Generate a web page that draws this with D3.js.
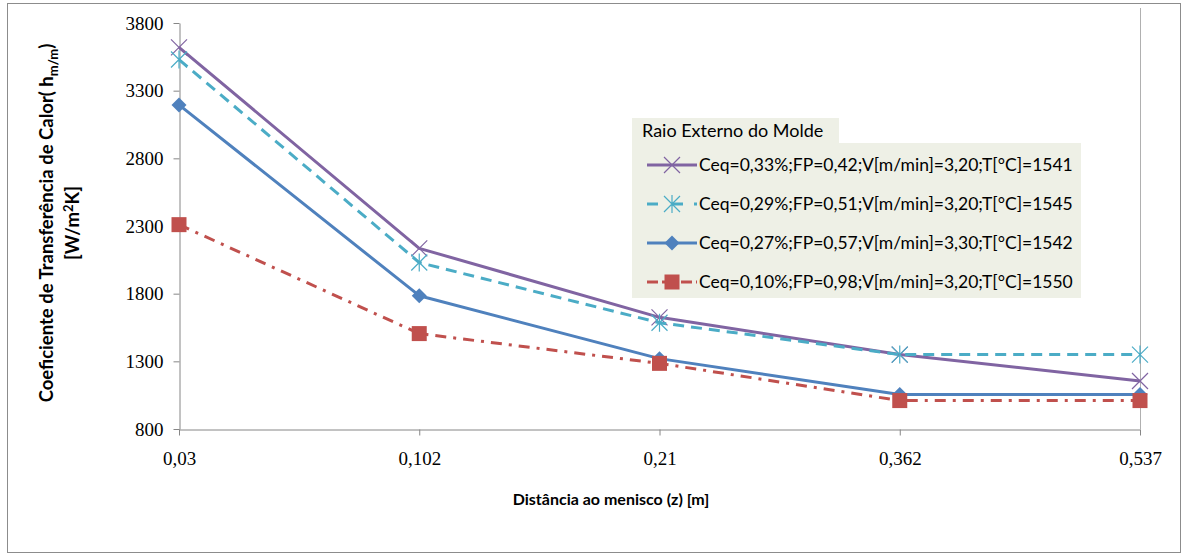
<!DOCTYPE html>
<html>
<head>
<meta charset="utf-8">
<script src="https://cdn.jsdelivr.net/npm/d3@7"></script>
<style>
  html, body { margin: 0; padding: 0; background: #fff; }
  svg { display: block; }
</style>
</head>
<body>
<svg id="chart" width="1182" height="554"></svg>
<script>
// Distance from meniscus (categorical positions along the mould)
const categories = ["0,03", "0,102", "0,21", "0,362", "0,537"];

// Heat transfer coefficient [W/m²K] for each casting condition
const ceq033 = [3620, 2135, 1625, 1350, 1155];
const ceq029 = [3530, 2030, 1585, 1350, 1350];
const ceq027 = [3195, 1785, 1320, 1055, 1055];
const ceq010 = [2310, 1505, 1285, 1010, 1010];

const seriesNames = [
  "Ceq=0,33%;FP=0,42;V[m/min]=3,20;T[°C]=1541",
  "Ceq=0,29%;FP=0,51;V[m/min]=3,20;T[°C]=1545",
  "Ceq=0,27%;FP=0,57;V[m/min]=3,30;T[°C]=1542",
  "Ceq=0,10%;FP=0,98;V[m/min]=3,20;T[°C]=1550"
];

const yTicks = [800, 1300, 1800, 2300, 2800, 3300, 3800];

const series = [
  { name: seriesNames[0], values: ceq033, color: "#8064A2", dash: null, marker: "x" },
  { name: seriesNames[1], values: ceq029, color: "#4BACC6", dash: "11,7", marker: "star" },
  { name: seriesNames[2], values: ceq027, color: "#4F81BD", dash: null, marker: "diamond" },
  { name: seriesNames[3], values: ceq010, color: "#C0504D", dash: "11,7,3,7", marker: "square" }
];

const svg = d3.select("#chart");
const serif = "'Liberation Serif', 'DejaVu Serif', serif";
const sans = "Lato, 'Open Sans', 'Noto Sans', sans-serif";

// outer chart frame
svg.append("rect")
  .attr("x", 7.5).attr("y", 3.5).attr("width", 1173).attr("height", 549)
  .attr("fill", "#fff").attr("stroke", "#8c8c8c").attr("stroke-width", 1);

const plot = { left: 179, right: 1140, top: 23, bottom: 429 };

const x = d3.scalePoint().domain(categories).range([plot.left, plot.right]).padding(0);
const y = d3.scaleLinear().domain([800, 3800]).range([plot.bottom, plot.top]);

// right edge of plot area
svg.append("line")
  .attr("x1", plot.right + 0.5).attr("x2", plot.right + 0.5)
  .attr("y1", plot.top - 15).attr("y2", plot.bottom)
  .attr("stroke", "#b0b0b0").attr("stroke-width", 1);

// y axis
const yAxis = svg.append("g")
  .attr("transform", `translate(${plot.left + 0.5},0)`)
  .call(d3.axisLeft(y).tickValues(yTicks).tickSize(6).tickSizeOuter(0).tickPadding(10)
        .tickFormat(d3.format("d")));
yAxis.select(".domain").attr("stroke", "#868686");
yAxis.selectAll(".tick line").attr("stroke", "#868686");
yAxis.selectAll(".tick text")
  .attr("font-family", serif).attr("font-size", 19).attr("fill", "#000");

// x axis
const xAxis = svg.append("g")
  .attr("transform", `translate(0,${plot.bottom + 0.5})`)
  .call(d3.axisBottom(x).tickSize(6).tickSizeOuter(0).tickPadding(16));
xAxis.select(".domain").attr("stroke", "#868686");
xAxis.selectAll(".tick line").attr("stroke", "#868686");
xAxis.selectAll(".tick text")
  .attr("font-family", serif).attr("font-size", 19).attr("fill", "#000");

// axis titles
svg.append("text")
  .attr("x", 611).attr("y", 505)
  .attr("text-anchor", "middle")
  .attr("font-family", sans).attr("font-weight", "bold").attr("font-size", 16)
  .text("Distância ao menisco (z) [m]");

const yTitle = svg.append("g").attr("transform", "translate(53,223) rotate(-90)");
const t1 = yTitle.append("text")
  .attr("x", 0).attr("y", 0).attr("text-anchor", "middle")
  .attr("font-family", sans).attr("font-weight", "bold").attr("font-size", 18.5);
t1.append("tspan").text("Coeficiente de Transferência de Calor( h");
t1.append("tspan").attr("dy", 5).attr("font-size", 13).text("m/m");
t1.append("tspan").attr("dy", -5).text(")");
const t2 = yTitle.append("text")
  .attr("x", 0).attr("y", 26).attr("text-anchor", "middle")
  .attr("font-family", sans).attr("font-weight", "bold").attr("font-size", 18.5);
t2.append("tspan").text("[W/m");
t2.append("tspan").attr("dy", -6).attr("font-size", 13).text("2");
t2.append("tspan").attr("dy", 6).text("K]");

// marker shapes
function drawMarker(g, type, color, cx, cy) {
  if (type === "x") {
    const r = 8;
    g.append("path")
      .attr("d", `M${cx - r},${cy - r}L${cx + r},${cy + r}M${cx - r},${cy + r}L${cx + r},${cy - r}`)
      .attr("stroke", color).attr("stroke-width", 1.2).attr("fill", "none");
  } else if (type === "star") {
    const r = 8;
    g.append("path")
      .attr("d", `M${cx - r},${cy - r}L${cx + r},${cy + r}M${cx - r},${cy + r}L${cx + r},${cy - r}M${cx},${cy - r - 1}L${cx},${cy + r + 1}`)
      .attr("stroke", color).attr("stroke-width", 1.2).attr("fill", "none");
  } else if (type === "diamond") {
    const r = 7.5;
    g.append("path")
      .attr("d", `M${cx},${cy - r}L${cx + r},${cy}L${cx},${cy + r}L${cx - r},${cy}Z`)
      .attr("fill", color);
  } else if (type === "square") {
    const s = 15;
    g.append("rect")
      .attr("x", cx - s / 2).attr("y", cy - s / 2).attr("width", s).attr("height", s)
      .attr("fill", color);
  }
}

const line = d3.line().x((d, i) => x(categories[i])).y(d => y(d));

// lines (draw order: first series on the bottom)
const linesG = svg.append("g");
series.forEach(s => {
  linesG.append("path")
    .datum(s.values)
    .attr("d", line)
    .attr("fill", "none")
    .attr("stroke", s.color)
    .attr("stroke-width", 3)
    .attr("stroke-linejoin", "round")
    .attr("stroke-dasharray", s.dash);
  const mg = linesG.append("g");
  s.values.forEach((v, i) => drawMarker(mg, s.marker, s.color, x(categories[i]), y(v)));
});

// legend
const legend = svg.append("g");
const legFill = "#eef0e6";
legend.append("rect").attr("x", 632).attr("y", 118).attr("width", 207).attr("height", 26).attr("fill", legFill);
legend.append("rect").attr("x", 632).attr("y", 143).attr("width", 449).attr("height", 155).attr("fill", legFill);
legend.append("text")
  .attr("x", 642).attr("y", 137)
  .attr("font-family", sans).attr("font-size", 18).attr("fill", "#000")
  .text("Raio Externo do Molde");

const rowY = [165, 204, 243, 282];
series.forEach((s, i) => {
  const ry = rowY[i];
  legend.append("line")
    .attr("x1", 647).attr("x2", 697).attr("y1", ry).attr("y2", ry)
    .attr("stroke", s.color).attr("stroke-width", 3)
    .attr("stroke-dasharray", s.dash ? (s.marker === "star" ? "11,14,11" : "11,4,11,8") : null);
  drawMarker(legend, s.marker, s.color, 672, ry);
  legend.append("text")
    .attr("x", 699).attr("y", ry + 6)
    .attr("font-family", sans).attr("font-size", 17.5).attr("fill", "#000")
    .text(s.name);
});
</script>
</body>
</html>
